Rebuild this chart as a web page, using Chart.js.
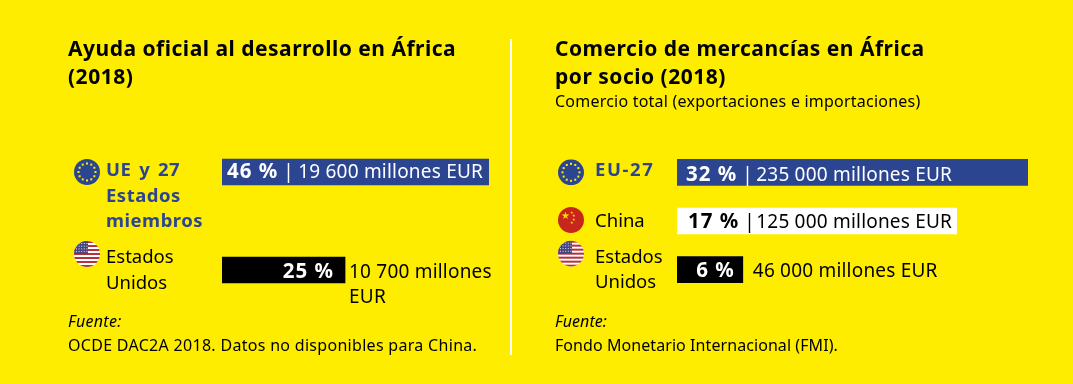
<!DOCTYPE html>
<html lang="es">
<head>
<meta charset="utf-8">
<title>Ayuda oficial y comercio en África (2018)</title>
<script src="https://cdn.jsdelivr.net/npm/chart.js@4"></script>
<style>
  html, body { margin: 0; padding: 0; background: #ffed00; }
  body { position: relative; width: 1073px; height: 384px; overflow: hidden; font-family: "Noto Sans", sans-serif; color: #000; }
  canvas { position: absolute; top: 0; }
  #aid { left: 0; }
  #trade { left: 510px; }
  .t { position: absolute; white-space: nowrap; }
  .h { font-size: 21px; font-weight: 700; line-height: 28px; letter-spacing: 0.5px; }
  .s { font-size: 16px; line-height: 24px; letter-spacing: 0.26px; }
  .rule { position: absolute; left: 510px; top: 39px; width: 2px; height: 316px; background: #fff; }
</style>
</head>
<body>
<canvas id="aid" width="510" height="384"></canvas>
<canvas id="trade" width="563" height="384"></canvas>
<div class="rule"></div>
<div class="t h" style="left:68px;top:34px">Ayuda oficial al desarrollo en África<br>(2018)</div>
<div class="t h" style="left:555px;top:34px">Comercio de mercancías en África<br>por socio (2018)</div>
<div class="t s" style="left:555px;top:89px;letter-spacing:0.22px">Comercio total (exportaciones e importaciones)</div>
<div class="t s" style="left:68px;top:309px;letter-spacing:0.3px"><i>Fuente:</i><br>OCDE DAC2A 2018. Datos no disponibles para China.</div>
<div class="t s" style="left:555px;top:309px;letter-spacing:0.07px"><i>Fuente:</i><br>Fondo Monetario Internacional (FMI).</div>
<script>
// Ayuda oficial
const aidPartners = [['UE y 27', 'Estados', 'miembros'], ['Estados', 'Unidos']]
const aidShares = [46, 25]
const aidAmounts = ['19 600 millones EUR', '10 700 millones EUR']
// largo de la barra tal como se ve, no es proporcional al porcentaje
const aidBars = [46, 21.2]
const aidFlags = ['eu', 'us']

// Comercio de mercancías
const tradePartners = [['EU-27'], ['China'], ['Estados', 'Unidos']]
const tradeShares = [32, 17, 6]
const tradeAmounts = ['235 000 millones EUR', '125 000 millones EUR', '46 000 millones EUR']
const tradeBars = [32, 25.5, 6]
const tradeFlags = ['eu', 'cn', 'us']

const BLUE = '#2b4591'
const FONT = '"Noto Sans", sans-serif'

function clipCircle(ctx, x, y, r, draw) {
  ctx.save()
  ctx.beginPath()
  ctx.arc(x, y, r, 0, Math.PI * 2)
  ctx.clip()
  draw()
  ctx.restore()
}

function drawFlag(ctx, kind, x, y) {
  const r = 13
  clipCircle(ctx, x, y, r, () => {
    if (kind === 'eu') {
      ctx.fillStyle = BLUE
      ctx.fillRect(x - r, y - r, r * 2, r * 2)
      ctx.fillStyle = '#ffed00'
      for (let i = 0; i < 12; i++) {
        const a = i * Math.PI / 6
        ctx.fillRect(x + Math.cos(a) * 8.5 - 1, y + Math.sin(a) * 8.5 - 1, 2, 2)
      }
    } else if (kind === 'cn') {
      ctx.fillStyle = '#c8261c'
      ctx.fillRect(x - r, y - r, r * 2, r * 2)
      ctx.fillStyle = '#ffd800'
      ctx.font = '10px ' + FONT
      ctx.textAlign = 'center'
      ctx.fillText('★', x - 5, y - 1)
      ctx.font = '4px ' + FONT
      ctx.fillText('★', x + 1, y - 6)
      ctx.fillText('★', x + 3, y - 3)
      ctx.fillText('★', x + 3, y + 1)
      ctx.fillText('★', x + 1, y + 4)
    } else {
      ctx.fillStyle = '#fff'
      ctx.fillRect(x - r, y - r, r * 2, r * 2)
      ctx.fillStyle = '#b5323a'
      for (let i = 0; i < 7; i++) ctx.fillRect(x - r, y - r + i * 4, r * 2, 2)
      ctx.fillStyle = '#46467f'
      ctx.fillRect(x - r, y - r, r + 1, r)
      ctx.fillStyle = '#dfe0ea'
      for (let i = 0; i < 4; i++) {
        for (let j = 0; j < 5; j++) ctx.fillRect(x - r + 2 + j * 2.6, y - r + 2 + i * 2.7, 1, 1)
      }
    }
  })
}

// etiquetas, banderas y textos de cada barra, colocados con las escalas del gráfico
const rowText = {
  id: 'rowText',
  afterDatasetsDraw(chart, args, opts) {
    const { ctx, scales: { x: xs, y: ys } } = chart
    ctx.save()
    ctx.textBaseline = 'alphabetic'
    opts.partners.forEach((lines, i) => {
      const cy = ys.getPixelForValue(i)
      const row = opts.rows[i]
      drawFlag(ctx, opts.flags[i], opts.flagX, cy + row.flagDy)

      ctx.textAlign = 'left'
      ctx.fillStyle = row.eu ? BLUE : '#000'
      ctx.font = row.eu ? '700 18.5px ' + FONT : '18.5px ' + FONT
      ctx.letterSpacing = row.labelGap || '0px'
      ctx.wordSpacing = row.eu ? '2.5px' : '0px'
      lines.forEach((line, n) => ctx.fillText(line, opts.labelX, cy + row.labelDy + n * 25.5))
      ctx.wordSpacing = '0px'

      const share = opts.shares[i] + ' %'
      const baseline = cy + row.textDy
      const bold = '700 20.5px ' + FONT
      const plain = '19px ' + FONT
      const boldGap = '1px'
      const plainGap = '0.2px'
      if (row.inside) {
        ctx.font = bold
        ctx.letterSpacing = boldGap
        ctx.fillStyle = row.ink
        const sx = xs.getPixelForValue(0) + row.pad
        ctx.fillText(share, sx, baseline)
        const w = ctx.measureText(share).width
        ctx.font = plain
        ctx.letterSpacing = plainGap
        ctx.fillText('|', sx + w + 5, baseline)
        ctx.fillText(opts.amounts[i], sx + w + row.amountDx, baseline)
      } else {
        ctx.font = bold
        ctx.letterSpacing = boldGap
        ctx.fillStyle = '#fff'
        ctx.textAlign = 'right'
        ctx.fillText(share, xs.getPixelForValue(opts.bars[i]) - row.pad, baseline)
        ctx.textAlign = 'left'
        ctx.font = plain
        ctx.letterSpacing = plainGap
        ctx.fillStyle = '#000'
        row.outside.forEach((line, n) => {
          ctx.fillText(line, xs.getPixelForValue(opts.bars[i]) + row.gap, baseline + n * 25)
        })
      }
    })
    ctx.restore()
  }
}

function makeChart(id, cfg) {
  return new Chart(document.getElementById(id), {
    type: 'bar',
    plugins: [rowText],
    data: {
      labels: cfg.partners.map(p => p.join(' ')),
      datasets: [{
        data: cfg.bars,
        backgroundColor: cfg.colors,
        barThickness: 26
      }]
    },
    options: {
      indexAxis: 'y',
      responsive: false,
      animation: false,
      layout: { padding: cfg.padding },
      scales: {
        x: { display: false, min: 0, max: cfg.max },
        y: { display: false }
      },
      plugins: {
        legend: { display: false },
        tooltip: { enabled: false },
        rowText: {
          partners: cfg.partners,
          shares: cfg.shares,
          amounts: cfg.amounts,
          bars: cfg.bars,
          flags: cfg.flags,
          flagX: cfg.flagX,
          labelX: cfg.labelX,
          rows: cfg.rows
        }
      }
    }
  })
}

makeChart('aid', {
  partners: aidPartners, shares: aidShares, amounts: aidAmounts, bars: aidBars, flags: aidFlags,
  colors: [BLUE, '#000'],
  max: 46,
  padding: { left: 222, right: 21, top: 123, bottom: 65 },
  flagX: 87, labelX: 106,
  rows: [
    { eu: true, flagDy: 0, labelDy: 4, textDy: 6, labelGap: '0.5px', inside: true, ink: '#fff', pad: 5, amountDx: 20 },
    { flagDy: -16, labelDy: -7, textDy: 7.5, pad: 11, gap: 4, outside: ['10 700 millones', 'EUR'] }
  ]
})

makeChart('trade', {
  partners: tradePartners, shares: tradeShares, amounts: tradeAmounts, bars: tradeBars, flags: tradeFlags,
  colors: [BLUE, '#fff', '#000'],
  max: 32,
  padding: { left: 167, right: 45, top: 148, bottom: 90 },
  flagX: 61, labelX: 85,
  rows: [
    { eu: true, flagDy: 0, labelDy: 3.7, textDy: 8.5, labelGap: '1.6px', inside: true, ink: '#fff', pad: 9, amountDx: 19 },
    { flagDy: -1, labelDy: 6, textDy: 6.5, inside: true, ink: '#000', pad: 11, amountDx: 17 },
    { flagDy: -16, labelDy: -6.7, textDy: 7.5, pad: 8, gap: 10, outside: ['46 000 millones EUR'] }
  ]
})
</script>
</body>
</html>
